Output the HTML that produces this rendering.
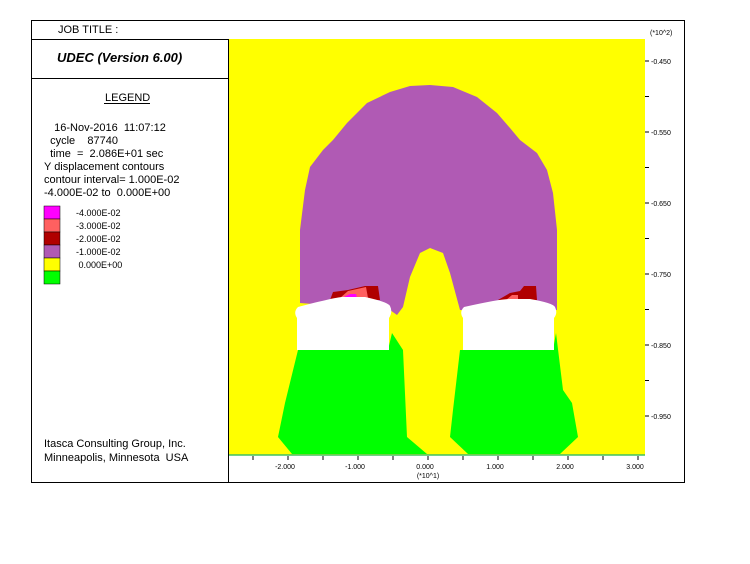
<!DOCTYPE html>
<html><head><meta charset="utf-8"><style>
body{margin:0;background:#fff;}
svg{display:block;font-family:"Liberation Sans",sans-serif;}
text{white-space:pre;}
</style></head><body>
<svg id="c" width="750" height="564">
<rect x="31.5" y="20.5" width="653" height="462" fill="none" stroke="#000"/>
<line x1="31" y1="39.5" x2="229" y2="39.5" stroke="#000"/>
<line x1="31" y1="78.5" x2="229" y2="78.5" stroke="#000"/>
<line x1="228.5" y1="39" x2="228.5" y2="482" stroke="#000"/>
<text x="58" y="33" font-size="11">JOB TITLE :</text>
<text x="57" y="62" font-size="13" font-weight="bold" font-style="italic">UDEC (Version 6.00)</text>
<text x="105" y="101" font-size="11">LEGEND</text>
<line x1="104" y1="103.5" x2="150" y2="103.5" stroke="#000"/>
<g font-size="11">
<text x="48" y="131" xml:space="preserve">  16-Nov-2016  11:07:12</text>
<text x="44" y="144" xml:space="preserve">  cycle    87740</text>
<text x="44" y="157" xml:space="preserve">  time  =  2.086E+01 sec</text>
<text x="44" y="170">Y displacement contours</text>
<text x="44" y="183">contour interval= 1.000E-02</text>
<text x="44" y="196" xml:space="preserve">-4.000E-02 to  0.000E+00</text>
</g>
<g id="legend"></g>
<text x="44" y="447" font-size="11">Itasca Consulting Group, Inc.</text>
<text x="44" y="461" font-size="11" xml:space="preserve">Minneapolis, Minnesota  USA</text>
<g>
<rect x="229" y="39" width="416" height="416" fill="#ffff00"/>
<path fill="#b05ab4" d="M430,85 L453,87 L477,97 L497,113 L510,128 L520,140 L537,153 L547,170 L553,193 L557,230 L557,310 L460,310 L450,273 L443,253 L430,248 L420,253 L410,277 L403,307 L397,315 L390,310 L300,303 L300,230 L305,190 L310,167 L323,150 L333,140 L347,123 L367,103 L390,92 L410,86 Z"/>
<path fill="#b00000" d="M330,300 L333,292 L348,290 L365,286 L378,286 L380,300 Z"/>
<path fill="#ff6060" d="M340,298 L348,291 L366,287 L368,298 Z"/>
<path fill="#ff00ff" d="M342,298 L350,294 L356,294 L357,298 Z"/>
<path fill="#b00000" d="M498,300 L510,293 L520,291 L524,286 L536,286 L537,300 Z"/>
<path fill="#ff6060" d="M506,300 L512,295 L518,295 L518,300 Z"/>
<path fill="#00ff00" d="M298,350 L388,350 L392,333 L403,350 L407,437 L427,454 L292,454 L278,437 L285,403 Z"/>
<path fill="#00ff00" d="M460,350 L553,350 L556,333 L563,390 L572,403 L578,437 L560,454 L468,454 L450,437 L453,410 Z"/>
<path fill="#fff" d="M297,350 L297,318 Q293,312 298,307 Q340,296 345,297 L365,297 Q388,302 390,306 Q393,312 389,318 L389,350 Z"/>
<path fill="#fff" d="M463,350 L463,318 Q459,312 464,307 Q500,299 510,299 L530,299 Q553,303 555,307 Q558,313 554,318 L554,350 Z"/>
<line x1="229" y1="455" x2="645" y2="455" stroke="#40c060" stroke-width="1.5"/>
</g>
<g id="axes"></g>
</svg>
<script>
const legendColors=["#ff00ff","#ff6060","#b00000","#b05ab4","#ffff00","#00ff00"];
const legendLabels=["-4.000E-02","-3.000E-02","-2.000E-02","-1.000E-02"," 0.000E+00",""];
const xTicks=[-2.5,-2,-1.5,-1,-0.5,0,0.5,1,1.5,2,2.5,3];
const xLabels=["-2.000","-1.000","0.000","1.000","2.000","3.000"];
const xLabelVals=[-2,-1,0,1,2,3];
const yTicks=[-0.45,-0.5,-0.55,-0.6,-0.65,-0.7,-0.75,-0.8,-0.85,-0.9,-0.95];
const yLabels=["-0.450","-0.550","-0.650","-0.750","-0.850","-0.950"];
const yLabelVals=[-0.45,-0.55,-0.65,-0.75,-0.85,-0.95];
const NS="http://www.w3.org/2000/svg";
const xs=v=>428+70*v;
const ys=v=>61+(-0.45-v)*710;
function mk(t,a,p){const e=document.createElementNS(NS,t);for(const k in a)e.setAttribute(k,a[k]);p.appendChild(e);return e;}
const lg=document.getElementById('legend');
legendColors.forEach((c,i)=>{
 const r=mk('rect',{x:44,y:206+i*13,width:16,height:13,fill:c,stroke:'#000','stroke-width':0.5},lg);
 
 
 if(legendLabels[i]){const t=mk('text',{x:76,y:216+i*13,'font-size':9},lg);t.textContent=legendLabels[i];
 
 }
});
const ax=document.getElementById('axes');
xTicks.forEach(v=>{mk('line',{x1:xs(v),y1:456,x2:xs(v),y2:460,stroke:'#000'},ax);});
xLabelVals.forEach((v,i)=>{const t=mk('text',{x:xs(v)-3,y:469,'font-size':7,'text-anchor':'middle'},ax);t.textContent=xLabels[i];
 
 });
const xt=mk('text',{x:428,y:478,'font-size':7,'text-anchor':'middle'},ax);xt.textContent="(*10^1)";


yTicks.forEach(v=>{mk('line',{x1:645,y1:ys(v),x2:649,y2:ys(v),stroke:'#000'},ax);});
yLabelVals.forEach((v,i)=>{const t=mk('text',{x:651,y:ys(v)+3,'font-size':7},ax);t.textContent=yLabels[i];
 
 });
const yt=mk('text',{x:650,y:35,'font-size':7},ax);yt.textContent="(*10^2)";


</script>
</body></html>
